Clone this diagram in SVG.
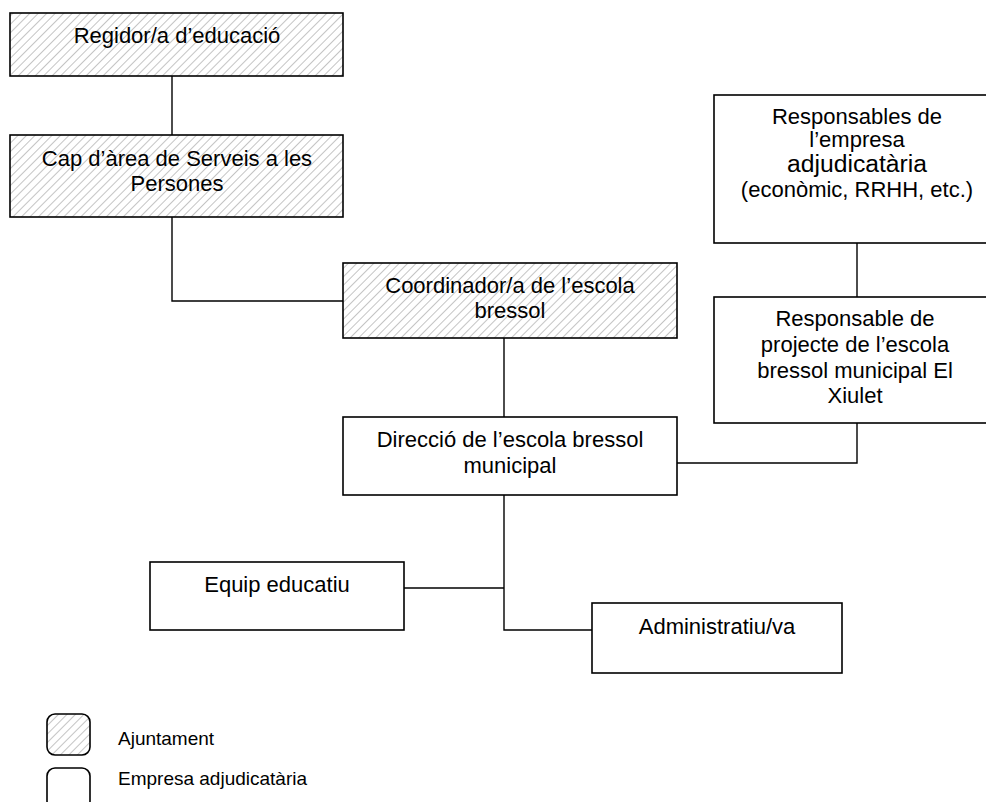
<svg xmlns="http://www.w3.org/2000/svg" width="986" height="802" viewBox="0 0 986 802">
<defs>
<pattern id="hatch" patternUnits="userSpaceOnUse" width="6" height="6" patternTransform="rotate(45)">
<rect width="6" height="6" fill="#ffffff"/>
<line x1="0" y1="0" x2="0" y2="6" stroke="#c4c4c4" stroke-width="2"/>
</pattern>
</defs>
<style>
.box{stroke:#000;stroke-width:1.6;fill:#fff}
.hat{stroke:#000;stroke-width:1.6;fill:url(#hatch)}
.t{font-family:"Liberation Sans",Arial,sans-serif;font-size:22px;fill:#000;text-anchor:middle}
.lg{font-family:"Liberation Sans",Arial,sans-serif;font-size:19px;fill:#000}
.c{stroke:#000;stroke-width:1.4;fill:none}
</style>
<rect width="986" height="802" fill="#fff"/>
<g id="connectors">
<line class="c" x1="172" y1="76" x2="172" y2="135"/>
<path class="c" d="M172,217 V301 H343"/>
<line class="c" x1="504" y1="338" x2="504" y2="417"/>
<line class="c" x1="857" y1="243" x2="857" y2="297"/>
<path class="c" d="M857,423 V463 H677"/>
<path class="c" d="M504,495 V630 H592"/>
<line class="c" x1="404" y1="588" x2="504" y2="588"/>
</g>
<g id="regidor">
<rect class="hat" x="10" y="13" width="333" height="63"/>
<text class="t" x="177" y="43">Regidor/a d’educació</text>
</g>
<g id="cap">
<rect class="hat" x="10" y="135" width="333" height="82"/>
<text class="t" x="177" y="166">Cap d’àrea de Serveis a les</text>
<text class="t" x="177" y="191">Persones</text>
</g>
<g id="coordinador">
<rect class="hat" x="343" y="263" width="334" height="75"/>
<text class="t" x="510" y="293">Coordinador/a de l’escola</text>
<text class="t" x="510" y="318">bressol</text>
</g>
<g id="responsables">
<rect class="box" x="714" y="95" width="286" height="148"/>
<text class="t" x="857" y="124">Responsables de</text>
<text class="t" x="857" y="147">l’empresa</text>
<text class="t" x="857" y="172" style="font-size:24.7px">adjudicatària</text>
<text class="t" x="857" y="197">(econòmic, RRHH, etc.)</text>
</g>
<g id="responsable-projecte">
<rect class="box" x="714" y="297" width="286" height="126"/>
<text class="t" x="855" y="326">Responsable de</text>
<text class="t" x="855" y="352">projecte de l’escola</text>
<text class="t" x="855" y="378">bressol municipal El</text>
<text class="t" x="855" y="403">Xiulet</text>
</g>
<g id="direccio">
<rect class="box" x="343" y="417" width="334" height="78"/>
<text class="t" x="510" y="447">Direcció de l’escola bressol</text>
<text class="t" x="510" y="473">municipal</text>
</g>
<g id="equip">
<rect class="box" x="150" y="562" width="254" height="68"/>
<text class="t" x="277" y="592">Equip educatiu</text>
</g>
<g id="administratiu">
<rect class="box" x="592" y="603" width="250" height="70"/>
<text class="t" x="717" y="634">Administratiu/va</text>
</g>
<g id="legend">
<rect class="hat" x="47" y="714" width="43" height="41" rx="8"/>
<text class="lg" x="118" y="745">Ajuntament</text>
<rect class="box" x="47" y="768" width="43" height="41" rx="8"/>
<text class="lg" x="118" y="785">Empresa adjudicatària</text>
</g>
</svg>
